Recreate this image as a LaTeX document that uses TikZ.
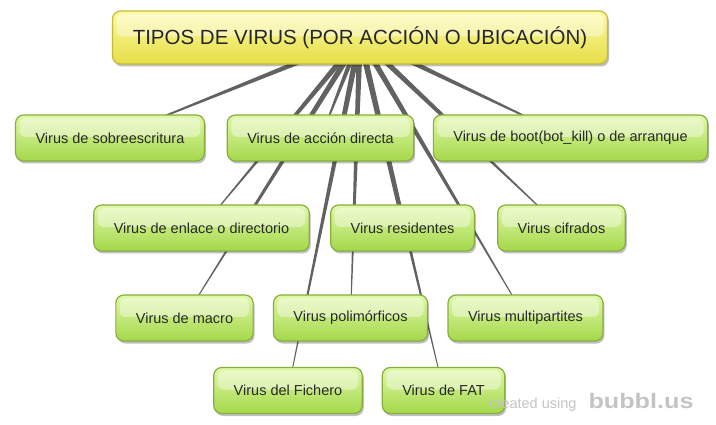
\documentclass[tikz,border=0pt]{standalone}
\usepackage{fontspec}
\setmainfont{Liberation Sans}
\usepackage{tikz}
\usetikzlibrary{calc}
\usetikzlibrary{shadows}
\usetikzlibrary{backgrounds}

\definecolor{leafborder}{RGB}{134,174,62}
\definecolor{leaftop}{RGB}{224,248,168}
\definecolor{leafbottom}{RGB}{164,216,74}
\definecolor{roottop}{RGB}{253,250,165}
\definecolor{rootbottom}{RGB}{230,222,70}
\definecolor{rootborder}{RGB}{196,186,58}
\definecolor{linkgray}{RGB}{98,98,98}
\definecolor{textgray}{RGB}{40,40,40}
\definecolor{creditgray}{RGB}{196,196,196}

% tapered link: thick at the first node, thin at the second
\newcommand\taperlink[2]{%
  \fill[linkgray] let \p1=($(#2)-(#1)$), \n1={atan2(\y1,\x1)} in
    ($(#1)+(\n1+90:3pt)$) -- ($(#2)+(\n1+90:0.3pt)$) --
    ($(#2)+(\n1-90:0.3pt)$) -- ($(#1)+(\n1-90:3pt)$) -- cycle;}

\tikzset{
  gloss/.style={path picture={
      \fill[white, opacity=0.4, rounded corners=6pt]
        ([xshift=4pt,yshift=-3pt]path picture bounding box.north west) rectangle
        ([xshift=-4pt,yshift=1pt]path picture bounding box.east);}},
  leaf/.style={draw=leafborder, line width=1.2pt, rounded corners=8pt,
    top color=leaftop, bottom color=leafbottom, gloss,
    minimum height=46pt, inner xsep=20pt, text=textgray,
    font=\fontsize{14.5}{16}\selectfont,
    drop shadow={shadow xshift=1.5pt, shadow yshift=-2.5pt, opacity=0.25, fill=black}},
  rootbox/.style={leaf, draw=rootborder, top color=roottop, bottom color=rootbottom,
    minimum height=53pt, minimum width=495pt, text=black!85,
    font=\fontsize{20.5}{22}\selectfont},
}

\begin{document}
\begin{tikzpicture}[x=1pt, y=-1pt]
  \useasboundingbox (0,0) rectangle (716,425);

  \node[rootbox] (root) at (360,37.5) {TIPOS DE VIRUS (POR ACCIÓN O UBICACIÓN)};

  \node[leaf] (sobre)   at (110,138)   {Virus de sobreescritura};
  \node[leaf] (accion)  at (320.5,138) {Virus de acción directa};
  \node[leaf] (boot)    at (570.5,138) {Virus de boot(bot\_kill) o de arranque};

  \node[leaf] (enlace)  at (201.5,228) {Virus de enlace o directorio};
  \node[leaf] (resid)   at (402.5,228) {Virus residentes};
  \node[leaf] (cifra)   at (561.5,228) {Virus cifrados};

  \node[leaf] (macro)   at (184.5,318) {Virus de macro};
  \node[leaf] (poli)    at (350.5,318) {Virus polimórficos};
  \node[leaf] (multi)   at (525.5,318) {Virus multipartites};

  \node[leaf] (fichero) at (288,390.5) {Virus del Fichero};
  \node[leaf] (fat)     at (443.5,390.5) {Virus de FAT};

  \begin{scope}[on background layer]
    \foreach \leafname in {sobre,accion,boot,enlace,resid,cifra,macro,poli,multi,fichero,fat}
      \taperlink{root}{\leafname};
  \end{scope}

  \node[text=creditgray, font=\fontsize{14.5}{15}\selectfont, anchor=base east] (credit) at (580,408) {created using};
  \node[text=creditgray, font=\bfseries\fontsize{21}{22}\selectfont, anchor=base west] (logo) at (585,408) {\scalebox{1.2}[1]{bubbl.us}};
\end{tikzpicture}
\end{document}
